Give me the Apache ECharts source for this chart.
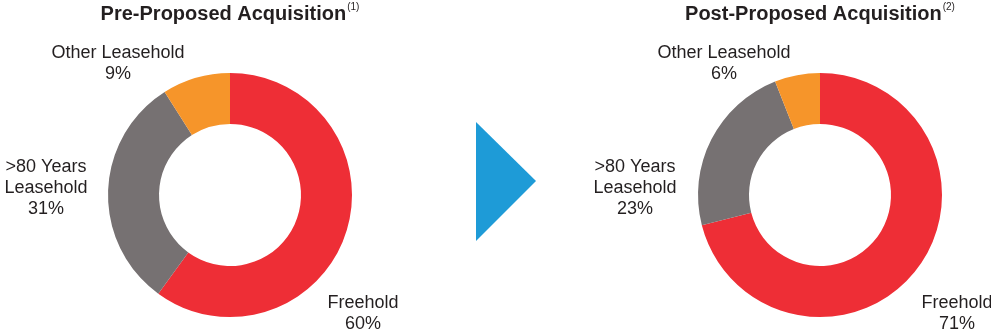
<!DOCTYPE html>
<html>
<head>
<meta charset="utf-8">
<script src="https://cdn.jsdelivr.net/npm/echarts@6/dist/echarts.min.js"></script>
<style>
  html, body { margin: 0; padding: 0; background: #fff; }
  #chart { width: 991px; height: 335px; }
</style>
</head>
<body>
<div id="chart"></div>
<script>
// categories, clockwise from 12 o'clock
var categories = ['Freehold', '>80 Years\nLeasehold', 'Other Leasehold'];
var preValues = [60, 31, 9];
var postValues = [71, 23, 6];
var titles = ['Pre-Proposed Acquisition', 'Post-Proposed Acquisition'];
var footnotes = ['(1)', '(2)'];
var colors = ['#ee2e36', '#767172', '#f6952a'];

// label anchor points (centre of each label block)
var preLabelPos = [[363, 314], [46, 188], [118, 64]];
var postLabelPos = [[957, 314], [635, 188], [724, 64]];

var chartDom = document.getElementById('chart');
var myChart = echarts.init(chartDom);
var font = '"Liberation Sans", Arial, Helvetica, sans-serif';
var textColor = '#231f20';

function makePie(values, center, labelPos) {
  return {
    type: 'pie',
    center: center,
    radius: [71, 122],
    startAngle: 90,
    clockwise: true,
    avoidLabelOverlap: false,
    silent: true,
    itemStyle: { borderWidth: 0 },
    label: {
      show: true,
      position: 'outside',
      formatter: '{b}\n{c}%',
      color: textColor,
      fontFamily: font,
      fontSize: 18,
      lineHeight: 21,
      align: 'center'
    },
    labelLine: { show: false },
    labelLayout: function (params) {
      var p = labelPos[params.dataIndex];
      return { x: p[0], y: p[1], align: 'center', verticalAlign: 'middle' };
    },
    data: categories.map(function (name, i) {
      return { name: name, value: values[i], itemStyle: { color: colors[i] } };
    })
  };
}

var option = {
  animation: false,
  title: titles.map(function (t, i) {
    return {
      text: '{m|' + t + '}{s|' + footnotes[i] + '}',
      left: i === 0 ? 230 : 820,
      top: 2,
      padding: 0,
      textAlign: 'center',
      textStyle: {
        rich: {
          m: { fontFamily: font, fontWeight: 'bold', fontSize: 20, color: textColor, lineHeight: 24 },
          s: { fontFamily: font, fontWeight: 'normal', fontSize: 10, color: textColor, verticalAlign: 'top', lineHeight: 20, padding: [0, 0, 0, 1] }
        }
      }
    };
  }),
  graphic: [{
    type: 'polygon',
    shape: { points: [[476, 122], [476, 241], [536, 181]] },
    style: { fill: '#1e9bd7' },
    silent: true
  }],
  series: [
    makePie(preValues, [230, 195], preLabelPos),
    makePie(postValues, [820, 195], postLabelPos)
  ]
};
myChart.setOption(option);
</script>
</body>
</html>
